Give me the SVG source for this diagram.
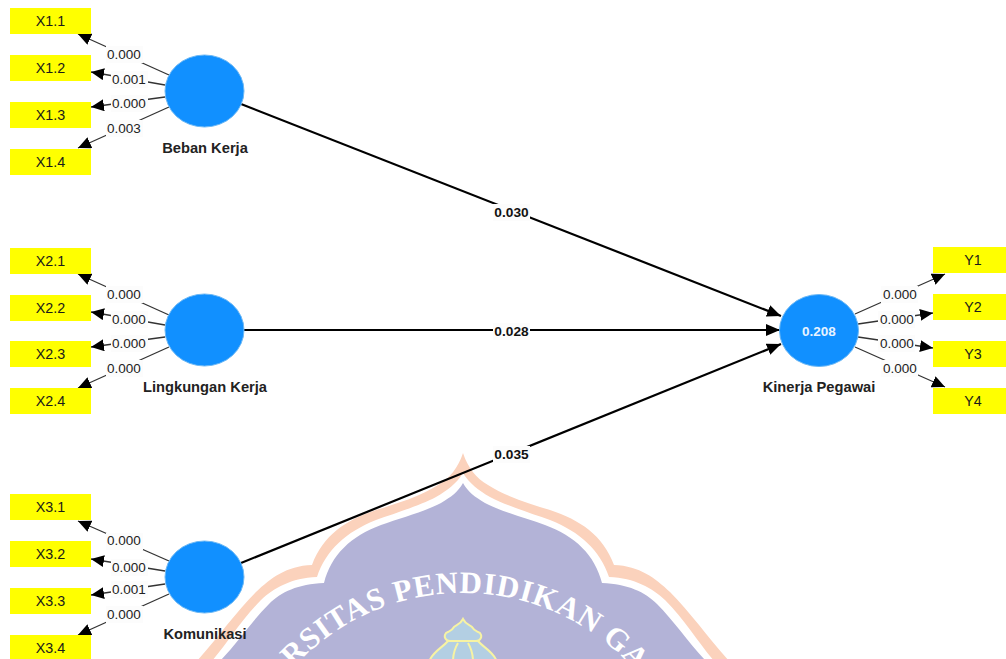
<svg xmlns="http://www.w3.org/2000/svg" width="1006" height="659" viewBox="0 0 1006 659">
<defs>
<style>
text{font-family:"Liberation Sans",Arial,sans-serif}
.box{fill:#ffff00}
.bt{font-size:14.300px;text-anchor:middle;fill:#1a1a1a}
.lv{fill:#1190ff;stroke:#6cb8f5;stroke-width:1}
.name{font-size:14.700px;font-weight:bold;text-anchor:middle;fill:#222}
.w{font-size:13.500px;text-anchor:middle;fill:#222}
.wb{fill:#fcfcfc}
.thin{stroke:#333;stroke-width:1.3;fill:none;marker-end:url(#a)}
.thick{stroke:#000;stroke-width:2.2;fill:none;marker-end:url(#b)}
.path{font-size:13.700px;font-weight:bold;text-anchor:middle;fill:#111}
.wm{font-family:"Liberation Serif",serif;font-weight:bold;font-size:31px;fill:#fff;letter-spacing:0.800px}
.orn{fill:#b3cfe3;stroke:#f7f3a3;stroke-width:2}
</style>
<marker id="a" markerUnits="userSpaceOnUse" markerWidth="14" markerHeight="12" refX="13" refY="6" orient="auto"><path d="M0 0L13 6L0 12z" fill="#000"/></marker>
<marker id="b" markerUnits="userSpaceOnUse" markerWidth="15" markerHeight="12" refX="14" refY="6" orient="auto"><path d="M0 0L14 6L0 12z" fill="#000"/></marker>
<path id="arc" d="M233 823A230 230 0 0 1 693 823"/>
</defs>
<g id="watermark">
<path fill="#fbd2bc" d="M463 453C468 468 476 478 488 485C505 496 530 504 550 510C580 520 603 535 614 565C640 566 655 578 670 592C690 612 710 640 730 662L196 662C216 640 236 612 256 592C271 578 286 566 312 565C323 535 346 520 376 510C396 504 421 496 438 485C450 478 458 468 463 453Z"/>
<path fill="#fff" d="M463 473C470 484 478 490 490 497C505 505 530 513 550 520C580 532 600 550 609 577C635 578 652 588 665 600C685 620 700 645 715 662L211 662C226 645 241 620 261 600C274 588 291 578 317 577C326 550 346 532 376 520C396 513 421 505 436 497C448 490 456 484 463 473Z"/>
<path fill="#b3b3d7" d="M463 483C468 492 475 497 485 503C500 511 525 518 545 525C575 536 595 555 602 583C628 584 645 592 657 604C675 622 690 645 707 662L219 662C236 645 251 622 269 604C281 592 298 584 324 583C331 555 351 536 381 525C401 518 426 511 441 503C451 497 458 492 463 483Z"/>
<text class="wm"><textPath href="#arc" startOffset="170">RSITAS PENDIDIKAN GAN</textPath></text>
<path class="orn" d="M463 619C466 625 470 625 472 627C474 631 477 631 480 633C483 637 480 641 476 641L450 641C446 641 443 637 446 633C449 631 452 631 454 627C456 625 460 625 463 619Z"/>
<path class="orn" d="M448 641L478 641C484 648 494 652 497 662L429 662C432 652 442 648 448 641Z"/>
<path d="M458 643C455 648 453 654 453 662M468 643C471 648 473 654 473 662" fill="none" stroke="#f7f3a3" stroke-width="2"/>
</g>
<g id="connectors">
<path class="thick" d="M241 104L781 316"/>
<path class="thick" d="M244 330L780 330"/>
<path class="thick" d="M241 563L781 344"/>
<path class="thin" d="M169 75L78 34"/>
<path class="thin" d="M165 85L91 72"/>
<path class="thin" d="M165 97L91 107"/>
<path class="thin" d="M169 107L78 148"/>
<path class="thin" d="M169 315L78 274"/>
<path class="thin" d="M165 325L91 312"/>
<path class="thin" d="M165 337L91 347"/>
<path class="thin" d="M169 347L78 388"/>
<path class="thin" d="M169 561L78 521"/>
<path class="thin" d="M165 571L91 559"/>
<path class="thin" d="M165 584L91 595"/>
<path class="thin" d="M169 594L78 635"/>
<path class="thin" d="M855 314L945 274"/>
<path class="thin" d="M858 324L933 313"/>
<path class="thin" d="M858 337L933 348"/>
<path class="thin" d="M855 347L945 387"/>
</g>
<g id="weights">
<g class="wb">
<rect x="106" y="46" width="37" height="17"/><rect x="111" y="71" width="37" height="17"/><rect x="111" y="95" width="37" height="17"/><rect x="106" y="120" width="37" height="17"/>
<rect x="106" y="286" width="37" height="17"/><rect x="111" y="311" width="37" height="17"/><rect x="111" y="335" width="37" height="17"/><rect x="106" y="360" width="37" height="17"/>
<rect x="106" y="533" width="37" height="17"/><rect x="111" y="559" width="37" height="17"/><rect x="111" y="581" width="37" height="17"/><rect x="106" y="606" width="37" height="17"/>
<rect x="881" y="286" width="37" height="17"/><rect x="878" y="311" width="37" height="17"/><rect x="878" y="335" width="37" height="17"/><rect x="881" y="360" width="37" height="17"/>
<rect x="493" y="204" width="37" height="17"/><rect x="493" y="323" width="37" height="17"/><rect x="493" y="446" width="37" height="17"/>
</g>
<text class="w" x="124" y="59">0.000</text><text class="w" x="129" y="84">0.001</text><text class="w" x="129" y="108">0.000</text><text class="w" x="124" y="133">0.003</text>
<text class="w" x="124" y="299">0.000</text><text class="w" x="129" y="324">0.000</text><text class="w" x="129" y="348">0.000</text><text class="w" x="124" y="373">0.000</text>
<text class="w" x="124" y="545">0.000</text><text class="w" x="129" y="572">0.000</text><text class="w" x="129" y="594">0.001</text><text class="w" x="124" y="619">0.000</text>
<text class="w" x="900" y="299">0.000</text><text class="w" x="897" y="324">0.000</text><text class="w" x="897" y="348">0.000</text><text class="w" x="900" y="373">0.000</text>
<text class="path" x="511.500" y="217">0.030</text><text class="path" x="511.500" y="336">0.028</text><text class="path" x="511.500" y="459">0.035</text>
</g>
<g id="n-x11"><rect class="box" x="10" y="8" width="81" height="26"/><text class="bt" x="50.500" y="26">X1.1</text></g>
<g id="n-x12"><rect class="box" x="10" y="55" width="81" height="26"/><text class="bt" x="50.500" y="73">X1.2</text></g>
<g id="n-x13"><rect class="box" x="10" y="102" width="81" height="26"/><text class="bt" x="50.500" y="120">X1.3</text></g>
<g id="n-x14"><rect class="box" x="10" y="149" width="81" height="26"/><text class="bt" x="50.500" y="167">X1.4</text></g>
<g id="n-x21"><rect class="box" x="10" y="248" width="81" height="26"/><text class="bt" x="50.500" y="266">X2.1</text></g>
<g id="n-x22"><rect class="box" x="10" y="295" width="81" height="26"/><text class="bt" x="50.500" y="313">X2.2</text></g>
<g id="n-x23"><rect class="box" x="10" y="341" width="81" height="26"/><text class="bt" x="50.500" y="359">X2.3</text></g>
<g id="n-x24"><rect class="box" x="10" y="388" width="81" height="26"/><text class="bt" x="50.500" y="406">X2.4</text></g>
<g id="n-x31"><rect class="box" x="10" y="494" width="81" height="26"/><text class="bt" x="50.500" y="512">X3.1</text></g>
<g id="n-x32"><rect class="box" x="10" y="541" width="81" height="26"/><text class="bt" x="50.500" y="559">X3.2</text></g>
<g id="n-x33"><rect class="box" x="10" y="588" width="81" height="26"/><text class="bt" x="50.500" y="606">X3.3</text></g>
<g id="n-x34"><rect class="box" x="10" y="635" width="81" height="26"/><text class="bt" x="50.500" y="653">X3.4</text></g>
<g id="n-y1"><rect class="box" x="933" y="247" width="74" height="26"/><text class="bt" x="973" y="265">Y1</text></g>
<g id="n-y2"><rect class="box" x="933" y="294" width="74" height="26"/><text class="bt" x="973" y="312">Y2</text></g>
<g id="n-y3"><rect class="box" x="933" y="341" width="74" height="26"/><text class="bt" x="973" y="359">Y3</text></g>
<g id="n-y4"><rect class="box" x="933" y="388" width="74" height="26"/><text class="bt" x="973" y="406">Y4</text></g>
<g id="n-beban"><ellipse class="lv" cx="204.500" cy="91" rx="39.500" ry="36"/><text class="name" x="205" y="153">Beban Kerja</text></g>
<g id="n-lingkungan"><ellipse class="lv" cx="204.500" cy="330" rx="39.500" ry="36"/><text class="name" x="205" y="392">Lingkungan Kerja</text></g>
<g id="n-komunikasi"><ellipse class="lv" cx="204.500" cy="577" rx="39.500" ry="36"/><text class="name" x="205" y="639">Komunikasi</text></g>
<g id="n-kinerja"><ellipse class="lv" cx="819" cy="330.500" rx="39.500" ry="36"/><text x="819" y="336" style="font-size:13.500px;font-weight:bold;text-anchor:middle;fill:#e8f3ff">0.208</text><text class="name" x="819" y="392">Kinerja Pegawai</text></g>
</svg>
